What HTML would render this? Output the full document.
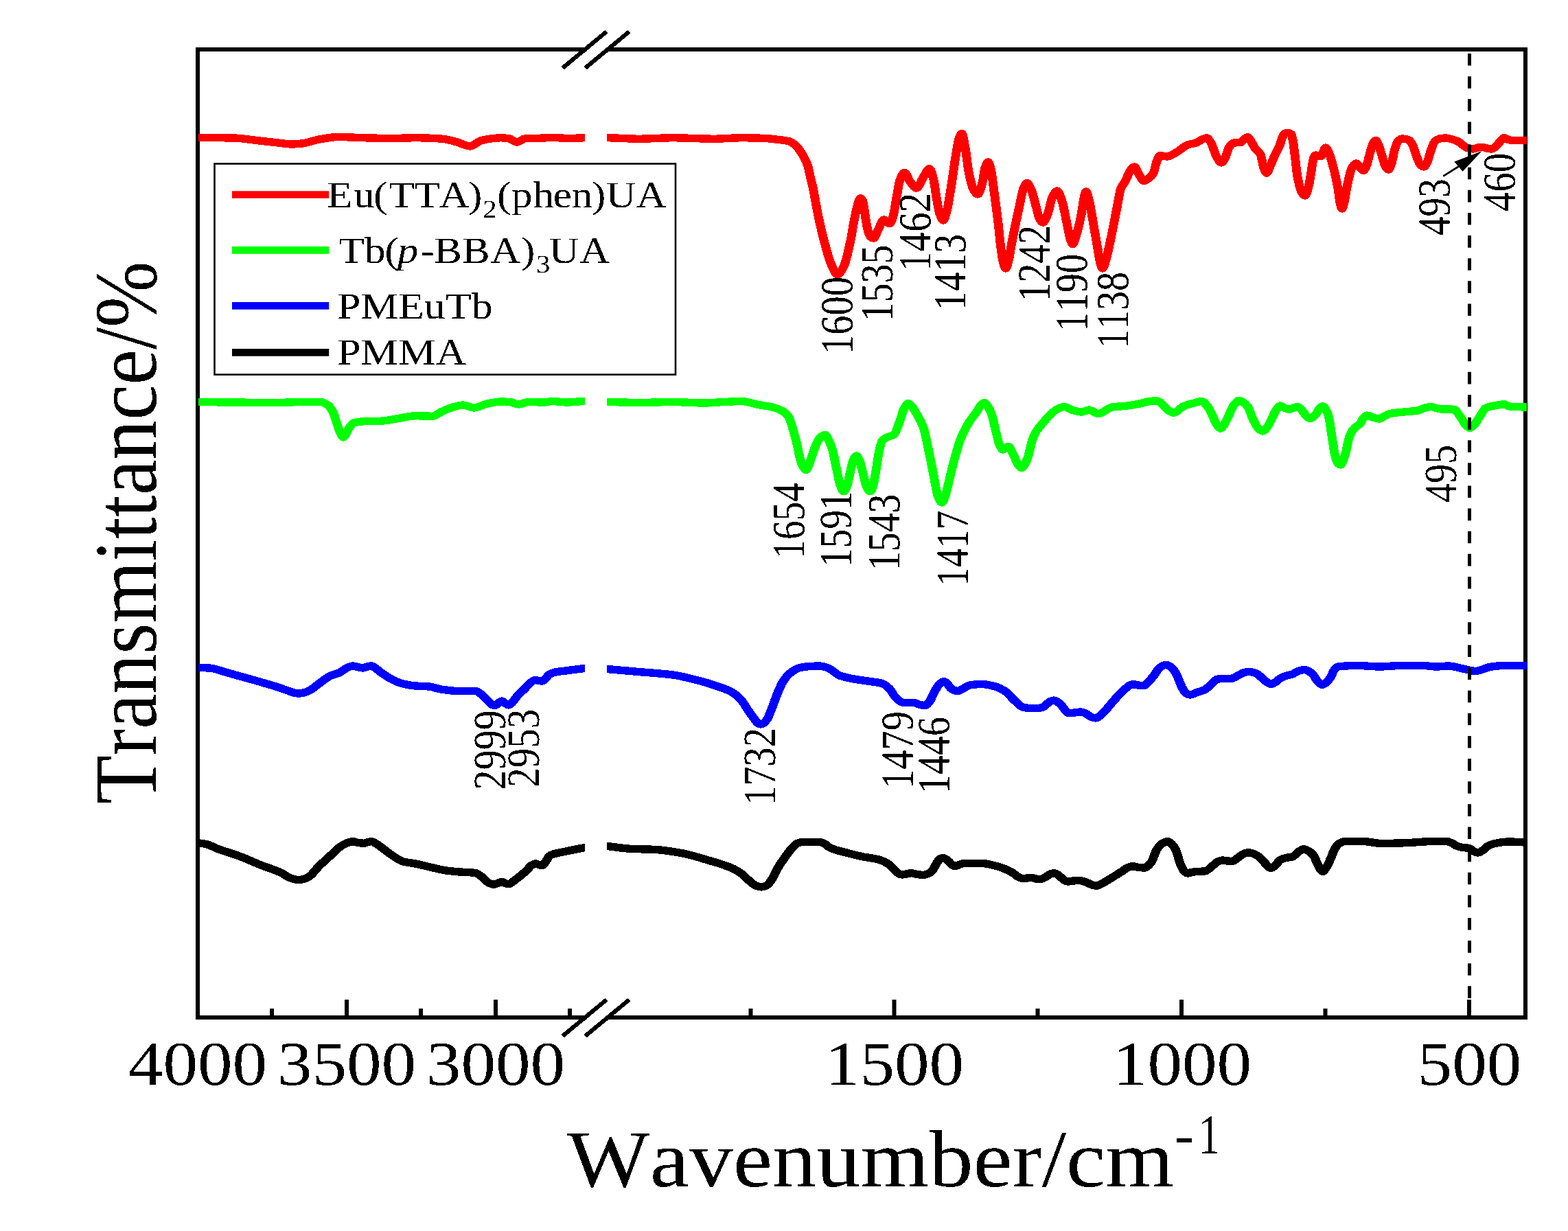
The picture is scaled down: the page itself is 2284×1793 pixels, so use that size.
<!DOCTYPE html>
<html lang="en"><head><meta charset="utf-8"><title>FT-IR spectra</title>
<style>html,body{margin:0;padding:0;background:#fff}body{width:2284px;height:1793px;overflow:hidden}svg{display:block}text{filter:url(#th);font-family:'Liberation Serif','Times New Roman',Times,serif;fill:#000;font-kerning:none;text-rendering:geometricPrecision;white-space:pre}</style></head><body>
<svg width="2284" height="1793" viewBox="0 0 2284 1793">
<rect width="2284" height="1793" fill="#fff"/>
<defs><filter id="th" x="-5%" y="-5%" width="110%" height="110%" color-interpolation-filters="sRGB"><feComponentTransfer><feFuncA type="discrete" tableValues="0 1"/></feComponentTransfer></filter><clipPath id="cl"><rect x="289" y="75" width="563.0" height="1404"/></clipPath><clipPath id="cr"><rect x="884" y="75" width="1340.0" height="1404"/></clipPath></defs>
<path d="M285,72 H854.6 M883.6,72 H2225 M285,1482 H854.6 M883.6,1482 H2225 M288,72 V1482 M2222,72 V1482" fill="none" stroke="#000" stroke-width="6"/>
<path d="M505,1482 V1456 M722,1482 V1456 M1302.5,1482 V1456 M1721,1482 V1456 M2140,1482 V1456 M396,1482 V1469 M613,1482 V1469 M830,1482 V1469 M1093.5,1482 V1469 M1511.5,1482 V1469 M1930.5,1482 V1469" fill="none" stroke="#000" stroke-width="6"/>
<path d="M819.6,99.0 L883.6,46.0 M852.6,99.0 L916.6,46.0 M819.6,1509.0 L883.6,1456.0 M852.6,1509.0 L916.6,1456.0" fill="none" stroke="#000" stroke-width="6.1" shape-rendering="crispEdges"/>
<g fill="none" stroke="#000" stroke-width="11.4" stroke-linejoin="round" stroke-linecap="butt" shape-rendering="crispEdges">
<g clip-path="url(#cl)"><path transform="scale(1.13,1)" d="M252.21,1228.00C253.39,1228.00 254.57,1228.00 255.75,1228.00C259.00,1228.00 262.24,1228.78 265.49,1229.50C270.65,1230.64 275.81,1234.34 280.97,1236.50C290.56,1240.51 300.15,1243.45 309.73,1247.50C318.58,1251.24 327.43,1256.01 336.28,1260.00C345.13,1263.99 353.98,1266.64 362.83,1271.50C365.78,1273.12 368.73,1275.97 371.68,1277.50C374.04,1278.72 376.40,1279.95 378.76,1280.50C380.83,1280.98 382.89,1281.50 384.96,1281.50C387.02,1281.50 389.09,1281.00 391.15,1280.50C393.51,1279.93 395.87,1278.58 398.23,1277.00C402.65,1274.04 407.08,1266.14 411.50,1261.25C415.93,1256.36 420.35,1252.08 424.78,1247.50C429.20,1242.92 433.63,1237.23 438.05,1233.75C441.00,1231.43 443.95,1229.15 446.90,1228.00C449.56,1226.96 452.21,1225.75 454.87,1225.75C457.23,1225.75 459.59,1227.15 461.95,1227.50C464.31,1227.85 466.67,1228.25 469.03,1228.25C470.80,1228.25 472.57,1226.89 474.34,1226.50C475.81,1226.17 477.29,1225.75 478.76,1225.75C480.83,1225.75 482.89,1227.71 484.96,1229.00C487.02,1230.29 489.09,1232.10 491.15,1233.75C495.58,1237.29 500.00,1241.75 504.42,1245.00C509.59,1248.80 514.75,1253.46 519.91,1255.00C525.07,1256.54 530.24,1256.86 535.40,1258.00C542.77,1259.62 550.15,1261.91 557.52,1263.75C563.42,1265.22 569.32,1267.09 575.22,1268.00C581.12,1268.91 587.02,1269.46 592.92,1270.00C599.56,1270.60 606.19,1270.46 612.83,1271.50C614.75,1271.80 616.67,1273.58 618.58,1275.00C620.35,1276.31 622.12,1278.31 623.89,1280.00C625.96,1281.97 628.02,1284.91 630.09,1286.00C632.15,1287.09 634.22,1288.25 636.28,1288.25C638.05,1288.25 639.82,1287.12 641.59,1286.50C643.36,1285.88 645.13,1284.50 646.90,1284.50C648.38,1284.50 649.85,1285.99 651.33,1286.50C652.80,1287.01 654.28,1287.75 655.75,1287.75C657.23,1287.75 658.70,1286.06 660.18,1285.00C662.09,1283.62 664.01,1281.72 665.93,1280.00C670.35,1276.02 674.78,1272.28 679.20,1267.50C681.12,1265.43 683.04,1261.79 684.96,1260.50C686.73,1259.31 688.50,1258.00 690.27,1258.00C691.74,1258.00 693.22,1259.05 694.69,1259.50C696.17,1259.95 697.64,1260.75 699.12,1260.75C700.59,1260.75 702.06,1257.23 703.54,1255.00C705.01,1252.77 706.49,1248.29 707.96,1247.00C709.73,1245.45 711.50,1244.63 713.27,1244.00C715.19,1243.31 717.11,1242.97 719.03,1242.50C730.68,1239.61 742.33,1237.04 753.98,1234.50C756.34,1233.99 758.70,1233.50 761.06,1233.00"/></g>
<g clip-path="url(#cr)"><path transform="scale(1.13,1)" d="M776.99,1232.00C778.76,1232.17 780.53,1232.32 782.30,1232.50C792.18,1233.53 802.06,1235.67 811.95,1236.25C823.01,1236.90 834.07,1236.83 845.13,1237.50C856.19,1238.17 867.26,1240.28 878.32,1242.50C889.38,1244.72 900.44,1248.80 911.50,1252.50C922.57,1256.20 933.63,1259.38 944.69,1265.00C948.38,1266.88 952.06,1269.50 955.75,1272.50C959.44,1275.50 963.13,1280.40 966.81,1283.75C969.32,1286.03 971.83,1288.95 974.34,1290.00C976.70,1290.99 979.06,1292.00 981.42,1292.00C983.48,1292.00 985.55,1291.03 987.61,1290.00C989.53,1289.04 991.45,1286.44 993.36,1283.75C996.31,1279.61 999.26,1270.56 1002.21,1265.00C1005.16,1259.44 1008.11,1254.66 1011.06,1250.00C1014.75,1244.18 1018.44,1238.01 1022.12,1233.75C1023.89,1231.70 1025.66,1229.33 1027.43,1228.50C1029.35,1227.60 1031.27,1226.75 1033.19,1226.75C1041.30,1226.75 1049.41,1226.75 1057.52,1226.75C1059.29,1226.75 1061.06,1228.01 1062.83,1229.00C1064.75,1230.07 1066.67,1232.54 1068.58,1233.75C1071.09,1235.33 1073.60,1236.54 1076.11,1237.50C1080.24,1239.09 1084.37,1240.04 1088.50,1241.25C1095.87,1243.41 1103.24,1245.76 1110.62,1247.50C1117.99,1249.24 1125.37,1249.77 1132.74,1252.00C1136.43,1253.12 1140.12,1255.04 1143.81,1257.50C1147.49,1259.96 1151.18,1265.12 1154.87,1268.75C1156.34,1270.20 1157.82,1272.37 1159.29,1273.00C1160.47,1273.50 1161.65,1274.00 1162.83,1274.00C1164.60,1274.00 1166.37,1273.33 1168.14,1273.00C1170.35,1272.58 1172.57,1271.75 1174.78,1271.75C1177.29,1271.75 1179.79,1273.09 1182.30,1273.50C1184.96,1273.93 1187.61,1274.50 1190.27,1274.50C1192.33,1274.50 1194.40,1273.46 1196.46,1272.50C1198.08,1271.75 1199.71,1270.49 1201.33,1268.75C1203.54,1266.38 1205.75,1259.88 1207.96,1256.25C1209.14,1254.32 1210.32,1251.57 1211.50,1251.00C1212.98,1250.28 1214.45,1249.75 1215.93,1249.75C1217.11,1249.75 1218.29,1250.76 1219.47,1251.50C1220.80,1252.34 1222.12,1253.63 1223.45,1255.00C1224.78,1256.37 1226.11,1259.17 1227.43,1260.00C1228.61,1260.74 1229.79,1261.50 1230.97,1261.50C1232.74,1261.50 1234.51,1260.08 1236.28,1259.50C1238.64,1258.73 1241.00,1257.50 1243.36,1257.50C1250.74,1257.50 1258.11,1257.50 1265.49,1257.50C1272.86,1257.50 1280.24,1260.18 1287.61,1262.50C1293.51,1264.36 1299.41,1267.49 1305.31,1271.25C1307.67,1272.75 1310.03,1275.74 1312.39,1277.00C1314.45,1278.11 1316.52,1279.50 1318.58,1279.50C1320.35,1279.50 1322.12,1279.16 1323.89,1279.00C1325.81,1278.83 1327.73,1278.50 1329.65,1278.50C1331.56,1278.50 1333.48,1279.74 1335.40,1280.00C1337.17,1280.24 1338.94,1280.50 1340.71,1280.50C1342.18,1280.50 1343.66,1279.65 1345.13,1279.00C1346.61,1278.35 1348.08,1277.24 1349.56,1276.25C1351.03,1275.26 1352.51,1273.60 1353.98,1273.00C1355.46,1272.40 1356.93,1271.75 1358.41,1271.75C1359.88,1271.75 1361.36,1272.69 1362.83,1273.50C1364.31,1274.31 1365.78,1276.09 1367.26,1277.50C1368.73,1278.91 1370.21,1281.08 1371.68,1282.00C1373.16,1282.92 1374.63,1284.00 1376.11,1284.00C1378.47,1284.00 1380.83,1283.20 1383.19,1283.00C1385.99,1282.76 1388.79,1282.50 1391.59,1282.50C1393.51,1282.50 1395.43,1283.38 1397.35,1284.00C1399.12,1284.57 1400.88,1285.42 1402.65,1286.25C1404.42,1287.08 1406.19,1288.46 1407.96,1289.00C1409.88,1289.59 1411.80,1290.25 1413.72,1290.25C1415.93,1290.25 1418.14,1288.23 1420.35,1287.00C1423.30,1285.36 1426.25,1283.24 1429.20,1281.25C1435.10,1277.28 1441.00,1273.03 1446.90,1268.75C1449.26,1267.04 1451.62,1264.46 1453.98,1263.50C1456.05,1262.66 1458.11,1261.75 1460.18,1261.75C1462.83,1261.75 1465.49,1263.23 1468.14,1263.50C1470.65,1263.75 1473.16,1264.00 1475.66,1264.00C1477.29,1264.00 1478.91,1262.05 1480.53,1260.50C1481.86,1259.23 1483.19,1257.35 1484.51,1255.00C1486.73,1251.09 1488.94,1241.48 1491.15,1237.50C1493.22,1233.79 1495.28,1230.40 1497.35,1229.00C1500.00,1227.19 1502.65,1225.50 1505.31,1225.50C1507.08,1225.50 1508.85,1227.66 1510.62,1229.50C1512.24,1231.19 1513.86,1233.97 1515.49,1237.50C1517.70,1242.31 1519.91,1254.47 1522.12,1260.00C1523.60,1263.69 1525.07,1267.50 1526.55,1269.00C1528.02,1270.50 1529.50,1272.00 1530.97,1272.00C1532.74,1272.00 1534.51,1270.88 1536.28,1270.50C1538.20,1270.09 1540.12,1269.65 1542.04,1269.50C1545.72,1269.22 1549.41,1269.32 1553.10,1269.00C1556.78,1268.68 1560.47,1263.11 1564.16,1260.00C1566.08,1258.38 1567.99,1256.00 1569.91,1255.00C1571.68,1254.07 1573.45,1253.00 1575.22,1253.00C1577.58,1253.00 1579.94,1253.76 1582.30,1254.00C1584.37,1254.21 1586.43,1254.50 1588.50,1254.50C1590.27,1254.50 1592.04,1252.30 1593.81,1251.00C1595.72,1249.60 1597.64,1247.66 1599.56,1246.25C1601.18,1245.06 1602.80,1243.57 1604.42,1243.00C1606.19,1242.38 1607.96,1241.75 1609.73,1241.75C1612.09,1241.75 1614.45,1242.98 1616.81,1244.00C1619.17,1245.02 1621.53,1246.70 1623.89,1248.75C1626.25,1250.80 1628.61,1254.91 1630.97,1257.50C1633.33,1260.09 1635.69,1264.50 1638.05,1264.50C1640.12,1264.50 1642.18,1261.88 1644.25,1260.00C1646.31,1258.12 1648.38,1253.81 1650.44,1252.50C1652.80,1251.00 1655.16,1250.10 1657.52,1249.50C1660.32,1248.79 1663.13,1248.85 1665.93,1248.00C1668.44,1247.24 1670.94,1242.83 1673.45,1241.00C1675.81,1239.28 1678.17,1236.75 1680.53,1236.75C1682.60,1236.75 1684.66,1238.24 1686.73,1239.50C1688.64,1240.67 1690.56,1242.45 1692.48,1245.00C1694.69,1247.94 1696.90,1255.36 1699.12,1260.00C1700.29,1262.47 1701.47,1265.52 1702.65,1267.00C1703.54,1268.11 1704.42,1269.50 1705.31,1269.50C1706.49,1269.50 1707.67,1266.85 1708.85,1265.00C1710.77,1261.99 1712.68,1257.06 1714.60,1252.50C1716.81,1247.24 1719.03,1238.65 1721.24,1235.00C1723.01,1232.08 1724.78,1229.72 1726.55,1228.50C1728.47,1227.17 1730.38,1225.80 1732.30,1225.75C1740.41,1225.55 1748.53,1225.50 1756.64,1225.50C1764.75,1225.50 1772.86,1228.50 1780.97,1228.50C1792.77,1228.50 1804.57,1227.99 1816.37,1227.50C1824.48,1227.16 1832.60,1225.90 1840.71,1225.75C1848.82,1225.60 1856.93,1225.50 1865.04,1225.50C1867.26,1225.50 1869.47,1226.93 1871.68,1228.00C1873.89,1229.07 1876.11,1231.65 1878.32,1232.50C1880.83,1233.47 1883.33,1234.07 1885.84,1234.50C1888.50,1234.95 1891.15,1234.91 1893.81,1235.50C1895.87,1235.96 1897.94,1238.93 1900.00,1240.00C1901.62,1240.84 1903.24,1242.00 1904.87,1242.00C1907.08,1242.00 1909.29,1240.02 1911.50,1238.50C1913.72,1236.98 1915.93,1233.18 1918.14,1232.00C1922.57,1229.64 1926.99,1228.25 1931.42,1227.50C1935.84,1226.75 1940.27,1226.00 1944.69,1226.00C1954.28,1226.00 1963.86,1227.00 1973.45,1227.50"/></g>
</g>
<g fill="none" stroke="#00f" stroke-width="11.4" stroke-linejoin="round" stroke-linecap="butt" shape-rendering="crispEdges">
<g clip-path="url(#cl)"><path transform="scale(1.13,1)" d="M252.21,972.50C253.39,972.50 254.57,972.50 255.75,972.50C260.47,972.50 265.19,972.72 269.91,973.00C277.29,973.44 284.66,977.25 292.04,979.50C299.41,981.75 306.78,984.17 314.16,986.50C321.53,988.83 328.91,991.09 336.28,993.50C343.66,995.91 351.03,998.29 358.41,1001.00C362.83,1002.63 367.26,1004.52 371.68,1006.25C374.04,1007.17 376.40,1008.47 378.76,1009.00C380.83,1009.47 382.89,1010.00 384.96,1010.00C387.02,1010.00 389.09,1009.47 391.15,1009.00C393.51,1008.47 395.87,1007.45 398.23,1006.25C402.65,1004.01 407.08,999.04 411.50,995.50C415.93,991.96 420.35,987.41 424.78,985.00C429.20,982.59 433.63,981.89 438.05,979.50C441.00,977.91 443.95,974.46 446.90,973.00C449.56,971.69 452.21,970.00 454.87,970.00C456.93,970.00 459.00,971.03 461.06,971.50C463.42,972.03 465.78,973.00 468.14,973.00C469.91,973.00 471.68,971.44 473.45,971.00C475.22,970.56 476.99,970.00 478.76,970.00C480.83,970.00 482.89,972.46 484.96,974.00C487.02,975.54 489.09,977.84 491.15,979.50C495.58,983.05 500.00,986.43 504.42,989.00C508.85,991.57 513.27,994.23 517.70,995.50C523.60,997.20 529.50,998.48 535.40,999.00C541.30,999.52 547.20,999.45 553.10,1000.00C558.26,1000.49 563.42,1003.17 568.58,1004.00C575.96,1005.19 583.33,1006.50 590.71,1006.50C598.08,1006.50 605.46,1006.50 612.83,1006.50C615.78,1006.50 618.73,1010.00 621.68,1012.50C624.63,1015.00 627.58,1019.39 630.53,1022.50C631.86,1023.90 633.19,1025.92 634.51,1026.50C635.69,1027.01 636.87,1027.50 638.05,1027.50C639.53,1027.50 641.00,1025.08 642.48,1024.00C643.95,1022.92 645.43,1021.00 646.90,1021.00C648.38,1021.00 649.85,1023.53 651.33,1024.50C652.80,1025.47 654.28,1027.00 655.75,1027.00C657.23,1027.00 658.70,1025.00 660.18,1023.50C662.09,1021.55 664.01,1017.49 665.93,1015.00C669.62,1010.21 673.30,1006.80 676.99,1002.50C679.35,999.75 681.71,995.80 684.07,994.00C686.14,992.43 688.20,990.50 690.27,990.50C691.74,990.50 693.22,991.28 694.69,991.50C696.17,991.72 697.64,992.00 699.12,992.00C700.59,992.00 702.06,989.54 703.54,988.00C705.01,986.46 706.49,983.49 707.96,982.50C710.91,980.53 713.86,979.39 716.81,978.75C720.94,977.85 725.07,977.58 729.20,977.00C737.46,975.83 745.72,974.23 753.98,973.50C756.34,973.29 758.70,973.17 761.06,973.00"/></g>
<g clip-path="url(#cr)"><path transform="scale(1.13,1)" d="M776.99,974.00C778.76,974.17 780.53,974.33 782.30,974.50C795.87,975.80 809.44,977.14 823.01,978.50C837.76,979.97 852.51,980.83 867.26,983.00C878.32,984.63 889.38,988.04 900.44,991.25C907.82,993.39 915.19,995.92 922.57,998.75C929.20,1001.30 935.84,1003.42 942.48,1007.50C946.90,1010.22 951.33,1014.54 955.75,1020.00C958.70,1023.64 961.65,1030.22 964.60,1035.00C967.55,1039.78 970.50,1044.55 973.45,1048.75C974.63,1050.43 975.81,1052.74 976.99,1053.50C978.17,1054.26 979.35,1055.00 980.53,1055.00C981.71,1055.00 982.89,1054.23 984.07,1053.50C985.69,1052.50 987.32,1050.18 988.94,1047.50C991.15,1043.85 993.36,1036.22 995.58,1030.00C997.79,1023.78 1000.00,1015.98 1002.21,1010.00C1004.42,1004.02 1006.64,997.76 1008.85,993.75C1011.80,988.40 1014.75,983.97 1017.70,981.25C1022.12,977.17 1026.55,973.59 1030.97,972.50C1035.40,971.41 1039.82,970.78 1044.25,970.50C1048.38,970.24 1052.51,970.00 1056.64,970.00C1059.00,970.00 1061.36,970.80 1063.72,971.50C1066.08,972.20 1068.44,973.59 1070.80,975.00C1074.48,977.21 1078.17,982.16 1081.86,983.75C1087.76,986.30 1093.66,987.49 1099.56,988.75C1106.93,990.33 1114.31,991.16 1121.68,992.50C1126.84,993.44 1132.01,993.80 1137.17,995.50C1140.12,996.47 1143.07,999.41 1146.02,1002.50C1148.97,1005.59 1151.92,1013.16 1154.87,1016.25C1157.82,1019.34 1160.77,1022.91 1163.72,1023.25C1166.37,1023.55 1169.03,1023.75 1171.68,1023.75C1174.19,1023.75 1176.70,1023.75 1179.20,1023.75C1181.42,1023.75 1183.63,1026.01 1185.84,1026.50C1188.05,1026.99 1190.27,1027.50 1192.48,1027.50C1194.40,1027.50 1196.31,1024.59 1198.23,1022.00C1200.00,1019.61 1201.77,1013.60 1203.54,1010.00C1205.90,1005.19 1208.26,999.43 1210.62,997.00C1212.68,994.87 1214.75,992.50 1216.81,992.50C1218.29,992.50 1219.76,994.48 1221.24,996.00C1222.71,997.52 1224.19,1001.13 1225.66,1002.50C1227.14,1003.87 1228.61,1005.00 1230.09,1005.50C1231.56,1006.00 1233.04,1006.50 1234.51,1006.50C1236.87,1006.50 1239.23,1004.27 1241.59,1003.00C1244.40,1001.49 1247.20,998.50 1250.00,998.00C1255.16,997.07 1260.32,996.50 1265.49,996.50C1271.39,996.50 1277.29,998.23 1283.19,1000.00C1287.61,1001.33 1292.04,1004.13 1296.46,1007.50C1300.15,1010.31 1303.83,1016.30 1307.52,1020.00C1311.21,1023.70 1314.90,1028.97 1318.58,1030.00C1321.53,1030.82 1324.48,1031.50 1327.43,1031.50C1331.12,1031.50 1334.81,1031.50 1338.50,1031.50C1340.41,1031.50 1342.33,1030.78 1344.25,1030.00C1345.72,1029.40 1347.20,1027.53 1348.67,1026.25C1350.44,1024.71 1352.21,1022.36 1353.98,1021.50C1355.46,1020.78 1356.93,1020.00 1358.41,1020.00C1359.88,1020.00 1361.36,1021.09 1362.83,1022.00C1364.31,1022.91 1365.78,1024.74 1367.26,1026.25C1370.94,1030.03 1374.63,1038.75 1378.32,1038.75C1380.53,1038.75 1382.74,1038.26 1384.96,1038.00C1387.61,1037.68 1390.27,1037.00 1392.92,1037.00C1394.99,1037.00 1397.05,1038.09 1399.12,1039.00C1401.47,1040.04 1403.83,1042.96 1406.19,1044.00C1408.26,1044.91 1410.32,1046.00 1412.39,1046.00C1414.45,1046.00 1416.52,1043.70 1418.58,1042.00C1420.65,1040.30 1422.71,1037.49 1424.78,1035.00C1429.20,1029.67 1433.63,1022.88 1438.05,1017.50C1442.48,1012.12 1446.90,1006.70 1451.33,1002.50C1453.10,1000.82 1454.87,998.74 1456.64,998.00C1458.11,997.38 1459.59,996.75 1461.06,996.75C1463.13,996.75 1465.19,997.71 1467.26,998.00C1469.62,998.33 1471.98,998.75 1474.34,998.75C1476.40,998.75 1478.47,995.23 1480.53,993.00C1482.60,990.77 1484.66,987.91 1486.73,985.00C1489.09,981.68 1491.45,976.55 1493.81,974.00C1495.58,972.09 1497.35,970.12 1499.12,969.50C1500.59,968.98 1502.06,968.50 1503.54,968.50C1505.31,968.50 1507.08,969.78 1508.85,971.00C1511.06,972.52 1513.27,976.14 1515.49,980.00C1518.44,985.14 1521.39,996.97 1524.34,1002.50C1525.96,1005.54 1527.58,1009.01 1529.20,1010.00C1530.97,1011.08 1532.74,1012.00 1534.51,1012.00C1536.87,1012.00 1539.23,1009.96 1541.59,1009.00C1545.43,1007.44 1549.26,1006.67 1553.10,1004.50C1555.75,1002.99 1558.41,999.57 1561.06,997.00C1563.57,994.57 1566.08,990.15 1568.58,989.50C1570.80,988.93 1573.01,988.50 1575.22,988.50C1578.91,988.50 1582.60,988.50 1586.28,988.50C1589.97,988.50 1593.66,984.96 1597.35,983.00C1599.41,981.90 1601.47,980.02 1603.54,979.50C1605.60,978.98 1607.67,978.50 1609.73,978.50C1611.80,978.50 1613.86,978.99 1615.93,979.50C1617.85,979.98 1619.76,981.21 1621.68,982.50C1624.48,984.39 1627.29,988.84 1630.09,991.00C1633.04,993.28 1635.99,996.50 1638.94,996.50C1640.71,996.50 1642.48,994.72 1644.25,993.50C1646.31,992.08 1648.38,989.32 1650.44,988.00C1652.80,986.49 1655.16,985.38 1657.52,984.50C1660.32,983.45 1663.13,983.12 1665.93,982.00C1668.44,981.00 1670.94,978.39 1673.45,977.50C1676.11,976.56 1678.76,975.50 1681.42,975.50C1683.19,975.50 1684.96,976.57 1686.73,977.50C1688.64,978.50 1690.56,980.32 1692.48,982.50C1694.40,984.68 1696.31,989.78 1698.23,992.00C1700.29,994.39 1702.36,997.50 1704.42,997.50C1705.90,997.50 1707.37,996.14 1708.85,995.00C1710.77,993.51 1712.68,990.62 1714.60,987.50C1716.52,984.38 1718.44,977.53 1720.35,975.00C1721.53,973.44 1722.71,971.98 1723.89,971.50C1725.22,970.96 1726.55,970.62 1727.88,970.50C1735.25,969.83 1742.63,969.50 1750.00,969.50C1759.59,969.50 1769.17,971.00 1778.76,971.00C1787.61,971.00 1796.46,969.50 1805.31,969.50C1814.90,969.50 1824.48,969.50 1834.07,969.50C1839.97,969.50 1845.87,971.00 1851.77,971.00C1856.93,971.00 1862.09,970.00 1867.26,970.00C1873.16,970.00 1879.06,972.36 1884.96,973.75C1888.50,974.58 1892.04,975.87 1895.58,976.50C1897.94,976.92 1900.29,977.50 1902.65,977.50C1905.01,977.50 1907.37,976.25 1909.73,975.50C1913.27,974.37 1916.81,972.14 1920.35,971.50C1926.25,970.43 1932.15,969.50 1938.05,969.50C1949.85,969.50 1961.65,969.50 1973.45,969.50"/></g>
</g>
<g fill="none" stroke="#0f0" stroke-width="11.4" stroke-linejoin="round" stroke-linecap="butt" shape-rendering="crispEdges">
<g clip-path="url(#cl)"><path transform="scale(1.13,1)" d="M252.21,585.50C253.39,585.50 254.57,585.50 255.75,585.50C267.85,585.50 279.94,585.87 292.04,586.00C312.68,586.22 333.33,586.50 353.98,586.50C366.52,586.50 379.06,585.50 391.59,585.50C398.97,585.50 406.34,585.50 413.72,585.50C416.67,585.50 419.62,587.70 422.57,590.00C424.78,591.72 426.99,595.36 429.20,600.00C430.97,603.71 432.74,611.90 434.51,617.50C435.99,622.17 437.46,627.82 438.94,631.00C440.12,633.54 441.30,637.00 442.48,637.00C443.66,637.00 444.84,634.06 446.02,632.00C447.05,630.20 448.08,626.80 449.12,625.00C451.33,621.13 453.54,616.73 455.75,616.00C460.18,614.54 464.60,613.94 469.03,613.75C476.40,613.44 483.78,613.54 491.15,613.25C498.53,612.96 505.90,610.75 513.27,609.50C520.65,608.25 528.02,605.75 535.40,605.75C542.77,605.75 550.15,606.25 557.52,606.25C561.21,606.25 564.90,601.86 568.58,600.00C573.75,597.39 578.91,594.54 584.07,593.00C588.50,591.68 592.92,590.00 597.35,590.00C601.77,590.00 606.19,594.00 610.62,594.00C616.52,594.00 622.42,589.33 628.32,588.00C634.22,586.67 640.12,585.00 646.02,585.00C649.71,585.00 653.39,585.21 657.08,585.50C660.77,585.79 664.45,589.00 668.14,589.00C672.57,589.00 676.99,585.50 681.42,585.50C688.05,585.50 694.69,586.00 701.33,586.00C705.01,586.00 708.70,584.50 712.39,584.50C718.29,584.50 724.19,586.00 730.09,586.00C738.05,586.00 746.02,584.50 753.98,584.50C756.34,584.50 758.70,584.50 761.06,584.50"/></g>
<g clip-path="url(#cr)"><path transform="scale(1.13,1)" d="M776.99,585.50C778.76,585.50 780.53,585.50 782.30,585.50C795.87,585.50 809.44,586.50 823.01,586.50C837.76,586.50 852.51,585.50 867.26,585.50C880.53,585.50 893.81,587.00 907.08,587.00C915.93,587.00 924.78,585.94 933.63,585.50C941.00,585.13 948.38,584.50 955.75,584.50C963.13,584.50 970.50,587.95 977.88,589.50C983.78,590.74 989.68,591.37 995.58,593.00C1000.00,594.22 1004.42,595.90 1008.85,598.75C1011.50,600.46 1014.16,602.97 1016.81,607.50C1018.58,610.52 1020.35,618.44 1022.12,625.00C1023.89,631.56 1025.66,639.30 1027.43,647.50C1028.91,654.34 1030.38,664.70 1031.86,670.00C1033.04,674.24 1034.22,677.93 1035.40,680.00C1036.58,682.07 1037.76,684.50 1038.94,684.50C1040.12,684.50 1041.30,680.76 1042.48,678.00C1043.81,674.90 1045.13,669.17 1046.46,665.00C1048.67,658.04 1050.88,649.75 1053.10,645.00C1054.87,641.20 1056.64,637.30 1058.41,636.00C1060.18,634.70 1061.95,633.50 1063.72,633.50C1065.19,633.50 1066.67,637.87 1068.14,641.00C1069.76,644.45 1071.39,649.03 1073.01,655.00C1074.93,662.05 1076.84,675.25 1078.76,685.00C1080.24,692.50 1081.71,702.83 1083.19,707.00C1084.66,711.17 1086.14,715.75 1087.61,715.75C1089.09,715.75 1090.56,711.17 1092.04,707.00C1093.51,702.83 1094.99,691.73 1096.46,685.00C1097.64,679.62 1098.82,672.65 1100.00,670.00C1101.33,667.02 1102.65,664.00 1103.98,664.00C1105.31,664.00 1106.64,667.74 1107.96,671.00C1109.14,673.89 1110.32,680.14 1111.50,685.00C1113.27,692.30 1115.04,703.91 1116.81,708.00C1118.44,711.75 1120.06,715.75 1121.68,715.75C1123.01,715.75 1124.34,711.35 1125.66,707.00C1126.84,703.13 1128.02,692.64 1129.20,685.00C1130.68,675.45 1132.15,661.95 1133.63,655.00C1134.81,649.44 1135.99,643.70 1137.17,642.00C1138.94,639.46 1140.71,638.63 1142.48,637.50C1145.87,635.33 1149.26,635.41 1152.65,632.50C1155.16,630.35 1157.67,619.93 1160.18,612.50C1161.95,607.26 1163.72,598.50 1165.49,595.00C1167.26,591.50 1169.03,587.50 1170.80,587.50C1172.57,587.50 1174.34,590.68 1176.11,593.00C1177.88,595.32 1179.65,599.00 1181.42,602.50C1184.37,608.33 1187.32,613.21 1190.27,622.50C1192.48,629.46 1194.69,643.39 1196.90,655.00C1199.12,666.61 1201.33,680.11 1203.54,692.50C1205.31,702.41 1207.08,717.02 1208.85,722.00C1210.62,726.98 1212.39,732.00 1214.16,732.00C1215.63,732.00 1217.11,726.42 1218.58,722.00C1220.21,717.14 1221.83,707.33 1223.45,700.00C1225.66,690.00 1227.88,679.12 1230.09,670.00C1232.74,659.06 1235.40,647.67 1238.05,640.00C1241.30,630.63 1244.54,623.62 1247.79,617.50C1251.47,610.55 1255.16,606.14 1258.85,600.00C1260.77,596.81 1262.68,591.95 1264.60,590.00C1266.08,588.50 1267.55,586.75 1269.03,586.75C1270.50,586.75 1271.98,589.67 1273.45,592.00C1275.22,594.80 1276.99,599.30 1278.76,605.00C1280.53,610.70 1282.30,622.29 1284.07,630.00C1285.55,636.42 1287.02,644.64 1288.50,648.00C1289.97,651.36 1291.45,655.00 1292.92,655.00C1294.10,655.00 1295.28,652.67 1296.46,652.00C1297.64,651.33 1298.82,650.50 1300.00,650.50C1301.18,650.50 1302.36,653.84 1303.54,656.00C1304.87,658.44 1306.19,661.87 1307.52,665.00C1309.14,668.82 1310.77,674.68 1312.39,677.00C1313.86,679.11 1315.34,681.50 1316.81,681.50C1318.29,681.50 1319.76,678.55 1321.24,676.00C1322.57,673.71 1323.89,669.42 1325.22,665.00C1327.14,658.61 1329.06,645.83 1330.97,640.00C1332.74,634.62 1334.51,630.69 1336.28,627.50C1339.23,622.18 1342.18,618.95 1345.13,615.00C1348.08,611.05 1351.03,606.81 1353.98,603.75C1356.93,600.69 1359.88,597.61 1362.83,596.00C1365.78,594.39 1368.73,592.50 1371.68,592.50C1375.37,592.50 1379.06,596.44 1382.74,597.50C1386.73,598.64 1390.71,600.00 1394.69,600.00C1397.64,600.00 1400.59,597.00 1403.54,597.00C1407.67,597.00 1411.80,602.50 1415.93,602.50C1421.83,602.50 1427.73,593.99 1433.63,593.00C1439.53,592.01 1445.43,592.01 1451.33,591.25C1457.23,590.49 1463.13,589.29 1469.03,588.00C1473.45,587.03 1477.88,585.05 1482.30,584.50C1485.25,584.13 1488.20,583.75 1491.15,583.75C1492.63,583.75 1494.10,584.95 1495.58,586.00C1497.05,587.05 1498.53,589.57 1500.00,591.25C1502.06,593.60 1504.13,596.60 1506.19,598.00C1508.41,599.50 1510.62,601.25 1512.83,601.25C1514.75,601.25 1516.67,599.36 1518.58,598.00C1520.50,596.64 1522.42,593.60 1524.34,592.50C1528.76,589.96 1533.19,588.83 1537.61,587.50C1541.59,586.30 1545.58,584.50 1549.56,584.50C1551.62,584.50 1553.69,588.23 1555.75,591.00C1557.82,593.77 1559.88,598.10 1561.95,602.50C1564.01,606.90 1566.08,614.82 1568.14,618.00C1569.91,620.73 1571.68,624.00 1573.45,624.00C1575.22,624.00 1576.99,619.96 1578.76,617.00C1580.83,613.54 1582.89,607.16 1584.96,602.50C1587.02,597.84 1589.09,591.73 1591.15,589.00C1593.07,586.46 1594.99,583.50 1596.90,583.50C1598.82,583.50 1600.74,584.80 1602.65,586.00C1604.57,587.20 1606.49,589.51 1608.41,592.50C1610.91,596.41 1613.42,607.05 1615.93,612.50C1617.99,616.99 1620.06,621.92 1622.12,624.00C1624.04,625.93 1625.96,628.00 1627.88,628.00C1629.79,628.00 1631.71,624.67 1633.63,622.00C1635.55,619.33 1637.46,614.16 1639.38,610.00C1641.30,605.84 1643.22,599.88 1645.13,597.00C1646.90,594.35 1648.67,591.00 1650.44,591.00C1652.21,591.00 1653.98,593.18 1655.75,594.00C1657.67,594.89 1659.59,596.25 1661.50,596.25C1663.42,596.25 1665.34,594.63 1667.26,594.00C1669.03,593.42 1670.80,592.50 1672.57,592.50C1674.04,592.50 1675.52,594.48 1676.99,596.00C1678.47,597.52 1679.94,600.51 1681.42,602.50C1682.89,604.49 1684.37,607.08 1685.84,608.00C1687.02,608.73 1688.20,609.50 1689.38,609.50C1690.56,609.50 1691.74,608.02 1692.92,607.00C1694.25,605.85 1695.58,604.38 1696.90,602.50C1698.23,600.62 1699.56,596.41 1700.88,595.00C1702.36,593.43 1703.83,591.75 1705.31,591.75C1706.49,591.75 1707.67,594.08 1708.85,596.00C1710.03,597.92 1711.21,600.71 1712.39,605.00C1713.86,610.36 1715.34,625.00 1716.81,635.00C1718.29,645.00 1719.76,659.21 1721.24,665.00C1722.42,669.64 1723.60,673.78 1724.78,675.00C1725.81,676.07 1726.84,677.00 1727.88,677.00C1728.91,677.00 1729.94,674.24 1730.97,672.00C1732.15,669.44 1733.33,664.60 1734.51,660.00C1736.28,653.10 1738.05,639.65 1739.82,635.00C1742.18,628.81 1744.54,625.09 1746.90,622.50C1748.97,620.23 1751.03,619.90 1753.10,617.50C1754.57,615.78 1756.05,610.81 1757.52,609.00C1759.00,607.19 1760.47,605.00 1761.95,605.00C1764.60,605.00 1767.26,607.20 1769.91,608.00C1772.57,608.80 1775.22,610.00 1777.88,610.00C1780.24,610.00 1782.60,607.24 1784.96,606.00C1787.32,604.76 1789.68,603.06 1792.04,602.50C1797.94,601.09 1803.83,600.74 1809.73,600.00C1815.63,599.26 1821.53,599.11 1827.43,598.00C1830.68,597.39 1833.92,594.83 1837.17,594.00C1839.82,593.32 1842.48,592.50 1845.13,592.50C1847.20,592.50 1849.26,593.97 1851.33,594.50C1853.69,595.11 1856.05,595.92 1858.41,596.00C1863.57,596.17 1868.73,596.07 1873.89,596.25C1876.84,596.35 1879.79,603.14 1882.74,607.50C1884.96,610.77 1887.17,616.61 1889.38,619.00C1891.15,620.91 1892.92,623.25 1894.69,623.25C1896.46,623.25 1898.23,620.87 1900.00,619.00C1902.36,616.51 1904.72,611.25 1907.08,607.50C1910.03,602.81 1912.98,595.15 1915.93,593.75C1919.62,592.00 1923.30,591.56 1926.99,590.75C1929.20,590.27 1931.42,589.86 1933.63,589.50C1935.40,589.22 1937.17,588.75 1938.94,588.75C1940.41,588.75 1941.89,590.48 1943.36,591.00C1945.28,591.67 1947.20,592.41 1949.12,592.50C1957.23,592.87 1965.34,592.83 1973.45,593.00"/></g>
</g>
<g fill="none" stroke="#f00" stroke-width="11.4" stroke-linejoin="round" stroke-linecap="butt" shape-rendering="crispEdges">
<g clip-path="url(#cl)"><path transform="scale(1.13,1)" d="M252.21,200.50C253.39,200.50 254.57,200.50 255.75,200.50C270.80,200.50 285.84,200.68 300.88,201.00C312.68,201.25 324.48,203.81 336.28,205.25C343.66,206.15 351.03,207.13 358.41,208.00C364.31,208.70 370.21,210.00 376.11,210.00C380.53,210.00 384.96,209.50 389.38,209.00C396.76,208.17 404.13,204.39 411.50,203.00C419.62,201.47 427.73,199.50 435.84,199.50C446.90,199.50 457.96,200.45 469.03,200.75C480.83,201.07 492.63,201.50 504.42,201.50C514.75,201.50 525.07,200.75 535.40,200.75C546.31,200.75 557.23,201.24 568.14,202.00C574.93,202.47 581.71,204.83 588.50,206.75C594.40,208.42 600.29,213.00 606.19,213.00C610.62,213.00 615.04,206.45 619.47,205.00C623.89,203.55 628.32,202.59 632.74,202.00C637.17,201.41 641.59,200.75 646.02,200.75C649.56,200.75 653.10,201.32 656.64,202.00C659.88,202.63 663.13,207.00 666.37,207.00C669.91,207.00 673.45,201.88 676.99,201.75C681.42,201.58 685.84,201.61 690.27,201.50C697.64,201.31 705.01,200.50 712.39,200.50C719.76,200.50 727.14,201.50 734.51,201.50C741.00,201.50 747.49,200.75 753.98,200.75C756.34,200.75 758.70,200.75 761.06,200.75"/></g>
<g clip-path="url(#cr)"><path transform="scale(1.13,1)" d="M776.99,200.75C778.76,200.75 780.53,200.75 782.30,200.75C795.87,200.75 809.44,202.25 823.01,202.25C837.76,202.25 852.51,200.75 867.26,200.75C884.96,200.75 902.65,202.25 920.35,202.25C932.15,202.25 943.95,200.75 955.75,200.75C966.08,200.75 976.40,201.05 986.73,201.50C991.15,201.69 995.58,202.41 1000.00,203.00C1005.90,203.79 1011.80,204.23 1017.70,206.00C1020.06,206.71 1022.42,208.83 1024.78,211.00C1026.84,212.90 1028.91,215.82 1030.97,219.00C1032.74,221.72 1034.51,225.21 1036.28,229.00C1037.91,232.47 1039.53,235.57 1041.15,241.00C1042.18,244.46 1043.22,251.06 1044.25,256.00C1045.52,262.07 1046.78,267.22 1048.05,274.00C1049.14,279.84 1050.24,287.43 1051.33,294.00C1052.51,301.10 1053.69,308.67 1054.87,315.00C1057.67,330.02 1060.47,343.32 1063.27,355.00C1065.78,365.45 1068.29,376.59 1070.80,383.00C1073.75,390.54 1076.70,400.00 1079.65,400.00C1082.45,400.00 1085.25,393.41 1088.05,387.00C1090.86,380.59 1093.66,364.82 1096.46,350.00C1097.94,342.20 1099.41,330.54 1100.88,322.00C1102.06,315.17 1103.24,308.34 1104.42,303.00C1105.31,299.00 1106.19,294.45 1107.08,292.50C1107.88,290.74 1108.67,288.80 1109.47,288.80C1110.29,288.80 1111.12,290.53 1111.95,292.50C1112.68,294.26 1113.42,300.20 1114.16,305.00C1114.90,309.80 1115.63,317.18 1116.37,322.00C1117.26,327.79 1118.14,333.83 1119.03,337.00C1120.06,340.70 1121.09,344.11 1122.12,345.00C1123.45,346.15 1124.78,347.00 1126.11,347.00C1128.02,347.00 1129.94,338.91 1131.86,335.00C1134.37,329.88 1136.87,320.00 1139.38,320.00C1141.89,320.00 1144.40,325.75 1146.90,325.75C1148.38,325.75 1149.85,320.15 1151.33,315.00C1152.80,309.85 1154.28,296.32 1155.75,287.50C1157.23,278.68 1158.70,266.18 1160.18,262.00C1162.09,256.56 1164.01,251.50 1165.93,251.50C1168.44,251.50 1170.94,261.52 1173.45,265.00C1176.11,268.69 1178.76,274.00 1181.42,274.00C1184.37,274.00 1187.32,262.90 1190.27,258.00C1192.92,253.59 1195.58,245.75 1198.23,245.75C1200.00,245.75 1201.77,254.19 1203.54,262.00C1204.72,267.21 1205.90,280.08 1207.08,287.50C1208.55,296.78 1210.03,307.61 1211.50,312.00C1212.98,316.39 1214.45,321.00 1215.93,321.00C1217.40,321.00 1218.88,313.82 1220.35,308.00C1222.12,301.01 1223.89,287.01 1225.66,275.00C1227.88,259.98 1230.09,239.31 1232.30,225.00C1233.63,216.42 1234.96,206.08 1236.28,202.00C1237.46,198.37 1238.64,194.50 1239.82,194.50C1241.30,194.50 1242.77,206.38 1244.25,215.00C1245.72,223.62 1247.20,241.77 1248.67,250.00C1250.74,261.52 1252.80,272.13 1254.87,276.00C1256.78,279.59 1258.70,283.00 1260.62,283.00C1262.54,283.00 1264.45,273.90 1266.37,266.00C1267.55,261.14 1268.73,247.62 1269.91,244.00C1271.24,239.93 1272.57,236.00 1273.89,236.00C1275.22,236.00 1276.55,243.39 1277.88,250.00C1278.91,255.14 1279.94,266.39 1280.97,275.00C1282.89,290.99 1284.81,306.55 1286.73,325.00C1287.91,336.36 1289.09,353.13 1290.27,362.50C1291.45,371.88 1292.63,381.15 1293.81,385.00C1294.69,387.89 1295.58,391.00 1296.46,391.00C1297.64,391.00 1298.82,384.79 1300.00,380.00C1301.62,373.41 1303.24,359.39 1304.87,350.00C1307.96,332.08 1311.06,315.81 1314.16,300.00C1315.93,290.96 1317.70,278.26 1319.47,274.00C1320.94,270.45 1322.42,266.80 1323.89,266.80C1325.66,266.80 1327.43,271.80 1329.20,276.00C1331.27,280.90 1333.33,291.79 1335.40,300.00C1336.87,305.86 1338.35,315.00 1339.82,318.00C1341.30,321.00 1342.77,324.00 1344.25,324.00C1346.31,324.00 1348.38,317.41 1350.44,312.00C1352.51,306.59 1354.57,291.41 1356.64,287.00C1358.70,282.59 1360.77,278.00 1362.83,278.00C1364.90,278.00 1366.96,286.19 1369.03,293.00C1371.09,299.81 1373.16,314.30 1375.22,325.00C1376.70,332.64 1378.17,343.23 1379.65,348.00C1380.68,351.34 1381.71,355.50 1382.74,355.50C1384.07,355.50 1385.40,349.34 1386.73,345.00C1389.09,337.29 1391.45,325.83 1393.81,312.50C1394.99,305.84 1396.17,293.28 1397.35,288.00C1398.23,284.04 1399.12,279.00 1400.00,279.00C1401.18,279.00 1402.36,285.27 1403.54,290.00C1405.46,297.69 1407.37,312.93 1409.29,325.00C1411.21,337.07 1413.13,350.48 1415.04,362.50C1416.22,369.90 1417.40,379.74 1418.58,384.00C1419.47,387.19 1420.35,391.00 1421.24,391.00C1422.42,391.00 1423.60,385.81 1424.78,382.00C1426.99,374.86 1429.20,361.47 1431.42,350.00C1434.37,334.71 1437.32,316.67 1440.27,300.00C1441.74,291.67 1443.22,279.31 1444.69,275.00C1446.90,268.53 1449.12,267.31 1451.33,262.50C1453.10,258.65 1454.87,251.63 1456.64,249.00C1458.55,246.15 1460.47,243.00 1462.39,243.00C1464.31,243.00 1466.22,250.73 1468.14,254.00C1470.21,257.52 1472.27,263.50 1474.34,263.50C1476.40,263.50 1478.47,261.59 1480.53,260.00C1482.60,258.41 1484.66,256.44 1486.73,252.50C1488.20,249.68 1489.68,238.81 1491.15,235.00C1492.63,231.19 1494.10,226.50 1495.58,226.50C1498.53,226.50 1501.47,228.00 1504.42,228.00C1508.85,228.00 1513.27,223.75 1517.70,221.00C1522.12,218.25 1526.55,212.74 1530.97,211.00C1534.66,209.55 1538.35,209.46 1542.04,208.00C1544.54,207.01 1547.05,204.22 1549.56,203.00C1551.47,202.07 1553.39,200.75 1555.31,200.75C1557.23,200.75 1559.14,204.70 1561.06,208.00C1563.42,212.06 1565.78,223.50 1568.14,228.00C1570.21,231.93 1572.27,237.00 1574.34,237.00C1576.11,237.00 1577.88,232.65 1579.65,229.00C1581.12,225.96 1582.60,217.41 1584.07,215.00C1586.28,211.38 1588.50,208.25 1590.71,208.00C1593.66,207.67 1596.61,207.85 1599.56,207.50C1601.18,207.31 1602.80,203.21 1604.42,202.00C1605.75,201.01 1607.08,199.75 1608.41,199.75C1609.73,199.75 1611.06,202.88 1612.39,205.00C1614.01,207.59 1615.63,212.34 1617.26,215.00C1619.76,219.11 1622.27,219.59 1624.78,225.00C1626.25,228.18 1627.73,241.00 1629.20,245.00C1630.38,248.20 1631.56,252.00 1632.74,252.00C1634.51,252.00 1636.28,244.28 1638.05,240.00C1639.97,235.36 1641.89,229.64 1643.81,225.00C1645.72,220.36 1647.64,217.28 1649.56,212.00C1650.74,208.75 1651.92,202.80 1653.10,200.00C1654.13,197.55 1655.16,194.64 1656.19,194.30C1657.52,193.86 1658.85,193.60 1660.18,193.60C1661.50,193.60 1662.83,194.09 1664.16,195.00C1665.04,195.61 1665.93,201.00 1666.81,206.00C1667.55,210.17 1668.29,218.47 1669.03,225.00C1670.21,235.44 1671.39,250.49 1672.57,257.50C1674.34,268.02 1676.11,276.90 1677.88,280.00C1679.35,282.59 1680.83,285.00 1682.30,285.00C1683.78,285.00 1685.25,277.96 1686.73,272.00C1687.91,267.23 1689.09,257.67 1690.27,250.00C1691.15,244.25 1692.04,235.00 1692.92,232.00C1693.81,229.00 1694.69,226.00 1695.58,226.00C1697.94,226.00 1700.29,227.50 1702.65,227.50C1704.72,227.50 1706.78,215.00 1708.85,215.00C1710.62,215.00 1712.39,221.19 1714.16,226.00C1715.78,230.41 1717.40,237.78 1719.03,245.00C1720.94,253.53 1722.86,262.64 1724.78,275.00C1725.66,280.71 1726.55,292.14 1727.43,296.00C1728.32,299.86 1729.20,304.00 1730.09,304.00C1730.97,304.00 1731.86,298.82 1732.74,295.00C1734.07,289.27 1735.40,276.89 1736.73,270.00C1738.64,260.04 1740.56,248.46 1742.48,245.00C1744.54,241.27 1746.61,238.00 1748.67,238.00C1750.15,238.00 1751.62,242.29 1753.10,244.00C1754.57,245.71 1756.05,248.50 1757.52,248.50C1759.00,248.50 1760.47,243.95 1761.95,240.00C1763.13,236.84 1764.31,229.62 1765.49,225.00C1766.96,219.23 1768.44,211.73 1769.91,209.00C1771.09,206.82 1772.27,204.50 1773.45,204.50C1774.63,204.50 1775.81,208.17 1776.99,211.00C1778.32,214.18 1779.65,220.35 1780.97,225.00C1782.60,230.69 1784.22,239.05 1785.84,242.00C1787.17,244.41 1788.50,247.00 1789.82,247.00C1791.15,247.00 1792.48,242.19 1793.81,238.00C1794.99,234.28 1796.17,224.64 1797.35,220.00C1798.82,214.20 1800.29,207.73 1801.77,206.00C1803.69,203.75 1805.60,202.00 1807.52,202.00C1810.47,202.00 1813.42,202.74 1816.37,204.00C1817.99,204.70 1819.62,208.41 1821.24,212.00C1822.57,214.93 1823.89,221.13 1825.22,225.00C1827.14,230.60 1829.06,237.99 1830.97,240.00C1832.45,241.55 1833.92,243.00 1835.40,243.00C1836.87,243.00 1838.35,239.25 1839.82,236.00C1841.30,232.75 1842.77,224.52 1844.25,220.00C1846.02,214.58 1847.79,207.87 1849.56,206.00C1851.62,203.82 1853.69,202.49 1855.75,202.00C1858.11,201.45 1860.47,201.00 1862.83,201.00C1867.99,201.00 1873.16,203.31 1878.32,205.50C1882.74,207.38 1887.17,214.18 1891.59,215.50C1894.10,216.25 1896.61,217.00 1899.12,217.00C1901.18,217.00 1903.24,215.27 1905.31,215.00C1907.37,214.73 1909.44,214.50 1911.50,214.50C1913.27,214.50 1915.04,215.62 1916.81,216.00C1918.73,216.41 1920.65,217.00 1922.57,217.00C1924.19,217.00 1925.81,215.32 1927.43,214.00C1929.20,212.56 1930.97,209.54 1932.74,207.50C1934.81,205.12 1936.87,200.75 1938.94,200.75C1940.71,200.75 1942.48,202.98 1944.25,203.50C1945.87,203.97 1947.49,204.50 1949.12,204.50C1957.23,204.50 1965.34,204.50 1973.45,204.50"/></g>
</g>
<path d="M2140.5,78 V1479" fill="none" stroke="#000" stroke-width="5" stroke-dasharray="17.6 15.53"/>
<rect x="312.5" y="238.5" width="671.5" height="307.1" fill="#fff" fill-opacity="0" stroke="#000" stroke-width="2.6"/>
<path d="M338,283.5 H479.2" stroke="#f00" stroke-width="10.7" fill="none"/>
<path d="M338,364.4 H479.2" stroke="#0f0" stroke-width="10.7" fill="none"/>
<path d="M338,445.4 H479.2" stroke="#00f" stroke-width="10.7" fill="none"/>
<path d="M338,513.4 H479.2" stroke="#000" stroke-width="10.7" fill="none"/>
<text transform="translate(477.80,301.70) scale(1.1213,1)" font-size="54.40"><tspan x="-1.57 33.35 59.32 79.19 112.28 144.39 182.05" y="0.00">Eu(TTA)</tspan><tspan x="200.81" y="15.20" font-size="36.99">2</tspan><tspan x="219.76 238.31 266.39 292.53 316.50 342.66 361.02 400.33" y="0.00">(phen)UA</tspan></text>
<text transform="translate(494.50,382.60) scale(1.1213,1)" font-size="54.40"><tspan x="-0.98 32.46 58.88" y="0.00">Tb(</tspan><tspan x="75.07" y="0.00" font-style="italic">p</tspan><tspan x="105.35 122.75 159.31 196.02 235.82" y="0.00">-BBA)</tspan><tspan x="255.25" y="14.80" font-size="36.99">3</tspan><tspan x="272.20 311.96" y="0.00">UA</tspan></text>
<text transform="translate(491.12,463.70) scale(1.1351,1)" font-size="54.40">PMEuTb</text>
<text transform="translate(491.13,531.40) scale(1.1320,1)" font-size="54.40">PMMA</text>
<text transform="translate(186.80,1579.8) scale(1.1121,1)" font-size="91.00">4000</text>
<text transform="translate(403.80,1579.8) scale(1.1121,1)" font-size="91.00">3500</text>
<text transform="translate(620.80,1579.8) scale(1.1121,1)" font-size="91.00">3000</text>
<text transform="translate(1201.80,1579.8) scale(1.1121,1)" font-size="91.00">1500</text>
<text transform="translate(1620.80,1579.8) scale(1.1121,1)" font-size="91.00">1000</text>
<text transform="translate(2064.60,1579.8) scale(1.1121,1)" font-size="91.00">500</text>
<text transform="translate(825.62,1727.50) scale(1.0857,1)" font-size="118.30"><tspan x="0.00" y="0.00">Wavenumber/cm</tspan></text>
<text transform="translate(1711.11,1679.50) scale(1.0354,1)" font-size="81.80">-</text>
<text transform="translate(1745.76,1679.50) scale(0.7639,1)" font-size="81.80">1</text>
<text transform="translate(227.10,1171.09) rotate(-90) scale(1,1.1234)" font-size="115.72">Transmittance/%</text>
<text transform="translate(1241.60,516.07) rotate(-90) scale(1,1.1881)" font-size="56.56">1600</text>
<text transform="translate(1299.80,468.09) rotate(-90) scale(1,1.2068)" font-size="55.68">1535</text>
<text transform="translate(1355.40,395.12) rotate(-90) scale(1,1.1761)" font-size="57.14">1462</text>
<text transform="translate(1406.40,451.78) rotate(-90) scale(1,1.2114)" font-size="55.47">1413</text>
<text transform="translate(1528.70,439.51) rotate(-90) scale(1,1.2033)" font-size="55.84">1242</text>
<text transform="translate(1583.50,482.76) rotate(-90) scale(1,1.1903)" font-size="56.46">1190</text>
<text transform="translate(1643.40,507.61) rotate(-90) scale(1,1.2028)" font-size="55.87">1138</text>
<text transform="translate(2111.60,343.08) rotate(-90) scale(1,1.2184)" font-size="55.15">493</text>
<text transform="translate(2206.60,308.11) rotate(-90) scale(1,1.1821)" font-size="56.85">460</text>
<text transform="translate(1171.40,813.66) rotate(-90) scale(1,1.2161)" font-size="55.26">1654</text>
<text transform="translate(1239.70,825.75) rotate(-90) scale(1,1.2178)" font-size="55.18">1591</text>
<text transform="translate(1310.30,830.90) rotate(-90) scale(1,1.2056)" font-size="55.74">1543</text>
<text transform="translate(1409.60,853.64) rotate(-90) scale(1,1.2204)" font-size="55.06">1417</text>
<text transform="translate(2120.85,731.84) rotate(-90) scale(1,1.1995)" font-size="56.02">495</text>
<text transform="translate(735.80,1150.45) rotate(-90) scale(1,1.1583)" font-size="58.01">2999</text>
<text transform="translate(784.80,1146.71) rotate(-90) scale(1,1.1786)" font-size="57.02">2953</text>
<text transform="translate(1128.80,1172.65) rotate(-90) scale(1,1.1941)" font-size="56.28">1732</text>
<text transform="translate(1329.60,1148.86) rotate(-90) scale(1,1.1907)" font-size="56.44">1479</text>
<text transform="translate(1382.60,1156.12) rotate(-90) scale(1,1.2001)" font-size="55.99">1446</text>
<path d="M2102.2,256.6 L2127,241" stroke="#000" stroke-width="2.7" fill="none"/>
<path d="M2158.6,220 L2118.4,235.4 L2130.6,249.8 Z" fill="#000"/>
</svg></body></html>
